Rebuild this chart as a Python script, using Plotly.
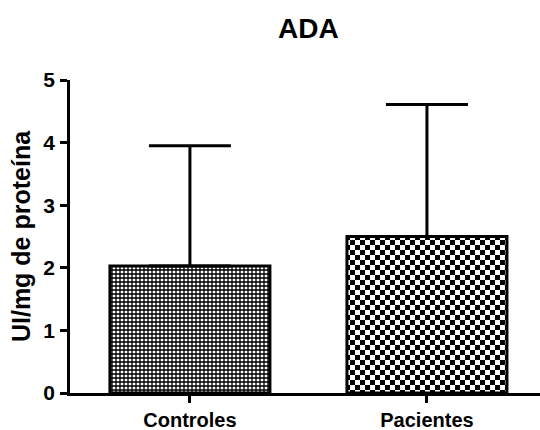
import plotly.graph_objects as go

categories = ["Controles", "Pacientes"]
means = [2.03, 2.50]
sd_upper = [1.92, 2.11]
tick_vals_y = [0, 1, 2, 3, 4, 5]

FONT = "Arial, Liberation Sans, Helvetica, sans-serif"

fig = go.Figure()
fig.add_trace(go.Bar(
    x=categories,
    y=means,
    width=0.675,
    marker=dict(
        color="white",
        line=dict(color="black", width=3),
        pattern=dict(
            shape=["+", "+"],
            size=[4, 10],
            solidity=[0.55, 0.5],
            fgcolor="black",
            bgcolor="white",
            fillmode="replace",
        ),
    ),
    error_y=dict(
        type="data",
        array=sd_upper,
        arrayminus=[0, 0],
        symmetric=False,
        color="black",
        thickness=3,
        width=41,
    ),
    showlegend=False,
))

fig.update_layout(
    width=540,
    height=430,
    margin=dict(l=70, r=0, t=79.5, b=36.5, autoexpand=False),
    paper_bgcolor="white",
    plot_bgcolor="white",
    title=dict(
        text="ADA",
        font=dict(family=FONT, size=28, color="black", weight="bold"),
        x=0.507, xref="paper", xanchor="center",
        y=1 - 28 / 430, yref="container", yanchor="middle",
    ),
    xaxis=dict(
        range=[-0.506, 1.477],
        showline=True, linecolor="black", linewidth=2.5,
        ticks="outside", ticklen=7, tickwidth=2.5, tickcolor="black",
        tickfont=dict(family=FONT, size=20, color="black", weight="bold"),
        showgrid=False, zeroline=False,
        ticklabelstandoff=0,
        automargin=False,
    ),
    yaxis=dict(
        range=[0, 5],
        tickvals=tick_vals_y,
        showline=True, linecolor="black", linewidth=2.5,
        ticks="outside", ticklen=7, tickwidth=2.5, tickcolor="black",
        tickfont=dict(family=FONT, size=21, color="black", weight="bold"),
        showgrid=False, zeroline=False,
        ticklabelstandoff=1,
        automargin=False,
        title=dict(text="UI/mg de proteína",
                   font=dict(family=FONT, size=25, color="black", weight="bold"),
                   standoff=6),
    ),
)

post = """
document.body.style.margin = '0';
document.body.style.padding = '0';
var gd = document.getElementById('{plot_id}');
var pats = gd.querySelectorAll('pattern');
pats.forEach(function(p){
  if (parseFloat(p.getAttribute('width')) === 10) {
    var path = p.querySelector('path');
    if (path) {
      path.setAttribute('d', 'M0,0H5V5H0ZM5,5H10V10H5Z');
      path.setAttribute('fill', 'black');
      path.setAttribute('stroke', 'none');
      path.style.fill = 'black';
      path.style.stroke = 'none';
      path.style.strokeWidth = '0';
    }
  }
});
"""

fig.write_html("out.html", post_script=post, config={"displayModeBar": False})
